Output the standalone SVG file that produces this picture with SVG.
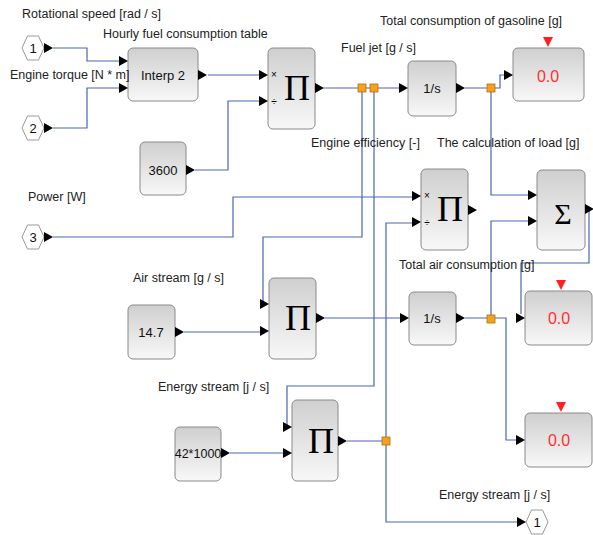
<svg xmlns="http://www.w3.org/2000/svg" xmlns:xlink="http://www.w3.org/1999/xlink" width="593" height="535" viewBox="0 0 593 535">
<defs>
<linearGradient id="g" x1="0" y1="0" x2="0" y2="1">
<stop offset="0" stop-color="#cfcfcf"/>
<stop offset="1" stop-color="#f8f8f8"/>
</linearGradient>
<polygon id="ai" points="-9,-5 0,0 -9,5" fill="#000"/>
<polygon id="ao" points="0,-5 9,0 0,5" fill="#000"/>
<polygon id="rt" points="-5,0 5,0 0,10" fill="#ff2020"/>
<rect id="sp" x="-4" y="-4" width="8" height="8" fill="#f5a11c" stroke="#b07010" stroke-width="0.8"/>
<polygon id="hx" points="-11,0 -5.5,-12 5.5,-12 11,0 5.5,12 -5.5,12" fill="#fff" stroke="#999" stroke-width="1"/>
</defs>
<style>
.b{fill:url(#g);stroke:#8a8a8a;stroke-width:1}
.t{font-family:"Liberation Sans",Arial,sans-serif;font-size:12.5px;fill:#222}
.c{font-family:"Liberation Sans",Arial,sans-serif;font-size:13px;fill:#111;text-anchor:middle}
.p{font-family:"Liberation Serif","Times New Roman",serif;font-size:36px;fill:#000;text-anchor:middle}
.s{font-family:"Liberation Sans",Arial,sans-serif;font-size:10px;fill:#000;text-anchor:middle}
.r{font-family:"Liberation Sans",Arial,sans-serif;font-size:16px;fill:#ff3030;text-anchor:middle}
.w{fill:none;stroke:#4a66b4;stroke-width:1.2}
</style>

<g id="connectors">
<polyline class="w" points="53,48 87,48 87,61 119,61"/>
<polyline class="w" points="53,128 87,128 87,88 119,88"/>
<polyline class="w" points="208,75 259,75"/>
<polyline class="w" points="195,170 228,170 228,101 259,101"/>
<polyline class="w" points="324,88 399,88"/>
<polyline class="w" points="465,88 500,88 500,75 504,75"/>
<polyline class="w" points="491,88 491,195 528,195"/>
<polyline class="w" points="362,88 362,237 263,237 263,304 260,304"/>
<polyline class="w" points="374,88 374,386 287,386 287,427 283,427"/>
<polyline class="w" points="53,237 233,237 233,197 412,197"/>
<polyline class="w" points="386,441 386,223 412,223"/>
<polyline class="w" points="347,441 386,441 386,522 517,522"/>
<polyline class="w" points="184,332 260,332"/>
<polyline class="w" points="230,453 283,453"/>
<polyline class="w" points="325,318 400,318"/>
<polyline class="w" points="465,318 506,318 506,440 516,440"/>
<polyline class="w" points="491,318 491,221 528,221"/>
<polyline class="w" points="589,209 589,263 521,263 521,314"/>
<use href="#sp" x="362" y="88"/>
<use href="#sp" x="374" y="88"/>
<use href="#sp" x="491" y="88"/>
<use href="#sp" x="491" y="319"/>
<use href="#sp" x="386" y="441"/>
</g>

<g id="in1"><use href="#hx" x="33" y="48"/><text class="c" x="33" y="53">1</text><use href="#ao" x="44" y="48"/></g>
<g id="in2"><use href="#hx" x="33" y="128"/><text class="c" x="33" y="133">2</text><use href="#ao" x="44" y="128"/></g>
<g id="in3"><use href="#hx" x="33" y="237"/><text class="c" x="33" y="242">3</text><use href="#ao" x="44" y="237"/></g>
<g id="out1"><use href="#hx" x="537" y="522"/><text class="c" x="537" y="527">1</text><use href="#ai" x="526" y="522"/></g>

<g id="interp"><rect class="b" x="128" y="48" width="70" height="53" rx="5"/><text class="c" x="163" y="80">Interp 2</text>
<use href="#ai" x="128" y="61"/><use href="#ai" x="128" y="88"/><use href="#ao" x="198" y="75"/></g>

<g id="fuelprod"><rect class="b" x="268" y="48" width="47" height="81" rx="5"/><text class="p" x="297" y="100">Π</text>
<text class="s" x="274" y="78">×</text><text class="s" x="274" y="105">÷</text>
<use href="#ai" x="268" y="75"/><use href="#ai" x="268" y="101"/><use href="#ao" x="315" y="88"/></g>

<g id="c3600"><rect class="b" x="140" y="142" width="46" height="53" rx="5"/><text class="c" x="163" y="175">3600</text><use href="#ao" x="186" y="170"/></g>

<g id="int1"><rect class="b" x="408" y="61" width="48" height="55" rx="5"/><text class="c" x="432" y="93">1/s</text>
<use href="#ai" x="408" y="88"/><use href="#ao" x="456" y="88"/></g>

<g id="disp1"><rect class="b" x="513" y="48" width="71" height="53" rx="5"/><text class="r" x="548" y="82">0.0</text>
<use href="#rt" x="548" y="37"/><use href="#ai" x="513" y="75"/></g>

<g id="effprod"><rect class="b" x="421" y="169" width="47" height="81" rx="5"/><text class="p" x="450" y="221">Π</text>
<text class="s" x="427" y="199">×</text><text class="s" x="427" y="226">÷</text>
<use href="#ai" x="421" y="196"/><use href="#ai" x="421" y="222"/><use href="#ao" x="468" y="210"/></g>

<g id="sum"><rect class="b" x="537" y="170" width="48" height="80" rx="5"/><text class="p" x="563" y="224" style="font-size:30px">Σ</text>
<use href="#ai" x="537" y="195"/><use href="#ai" x="537" y="221"/><use href="#ao" x="585" y="209"/></g>

<g id="airprod"><rect class="b" x="269" y="278" width="47" height="81" rx="5"/><text class="p" x="298" y="330">Π</text>
<use href="#ai" x="269" y="304"/><use href="#ai" x="269" y="331"/><use href="#ao" x="316" y="318"/></g>

<g id="c147"><rect class="b" x="128" y="305" width="47" height="54" rx="5"/><text class="c" x="151" y="337">14.7</text><use href="#ao" x="175" y="332"/></g>

<g id="int2"><rect class="b" x="409" y="292" width="47" height="53" rx="5"/><text class="c" x="432" y="323">1/s</text>
<use href="#ai" x="409" y="318"/><use href="#ao" x="456" y="318"/></g>

<g id="disp2"><rect class="b" x="525" y="291" width="67" height="54" rx="5"/><text class="r" x="559" y="324">0.0</text>
<use href="#rt" x="561" y="280"/><use href="#ai" x="525" y="318"/></g>

<g id="energyprod"><rect class="b" x="292" y="400" width="46" height="81" rx="5"/><text class="p" x="321" y="453">Π</text>
<use href="#ai" x="292" y="427"/><use href="#ai" x="292" y="453"/><use href="#ao" x="338" y="441"/></g>

<g id="c42000"><rect class="b" x="175" y="427" width="46" height="54" rx="5"/><text class="c" x="198" y="458" style="font-size:12.5px">42*1000</text><use href="#ao" x="221" y="453"/></g>

<g id="disp3"><rect class="b" x="525" y="413" width="67" height="54" rx="5"/><text class="r" x="559" y="446">0.0</text>
<use href="#rt" x="561" y="402"/><use href="#ai" x="525" y="440"/></g>

<g id="labels">
<text class="t" x="22" y="18">Rotational speed [rad / s]</text>
<text class="t" x="103" y="38">Hourly fuel consumption table</text>
<text class="t" x="10" y="79">Engine torque [N * m]</text>
<text class="t" x="28" y="201">Power [W]</text>
<text class="t" x="133" y="282">Air stream [g / s]</text>
<text class="t" x="158" y="391">Energy stream [j / s]</text>
<text class="t" x="380" y="25">Total consumption of gasoline [g]</text>
<text class="t" x="341" y="52">Fuel jet [g / s]</text>
<text class="t" x="311" y="147">Engine efficiency [-]</text>
<text class="t" x="437" y="147">The calculation of load [g]</text>
<text class="t" x="399" y="269">Total air consumption [g]</text>
<text class="t" x="439" y="499">Energy stream [j / s]</text>
</g>
</svg>
